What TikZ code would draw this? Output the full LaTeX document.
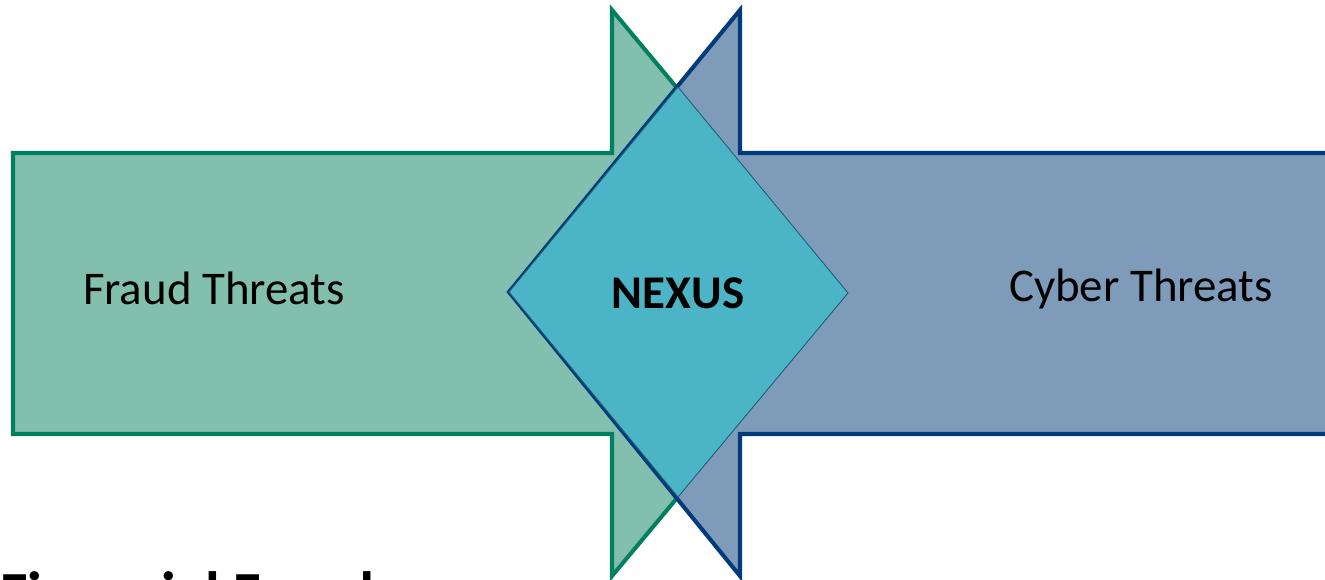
\documentclass[tikz,border=0pt]{standalone}
\usepackage{fontspec}
\setmainfont{Carlito}
\usetikzlibrary{positioning,calc}
\definecolor{FraudLine}{HTML}{00805E}
\definecolor{FraudFill}{HTML}{82BFAF}
\definecolor{CyberLine}{HTML}{003B7B}
\definecolor{CyberFill}{HTML}{7F9BBA}
\definecolor{NexusFill}{HTML}{4BB4C6}
\definecolor{NexusLine}{HTML}{1F5F70}

\begin{document}
\begin{tikzpicture}[x=0.02cm,y=-0.02cm,
    arrowshape/.style={line width=2.3pt, line join=miter},
    threatlabel/.style={font=\fontsize{26.7}{32}\selectfont, inner sep=0pt},
    nexuslabel/.style={font=\fontsize{26.7}{32}\selectfont\bfseries, inner sep=0pt}
  ]
    \useasboundingbox (0,0) rectangle (1325,579);
    \clip (0,0) rectangle (1325,579);

    % Arrow 1: Fraud (pointing right)
    \coordinate (ftip) at (848,293);
    \draw[arrowshape,draw=FraudLine,fill=FraudFill]
      (13,153) -- (612,153) -- (612,10) -- (ftip) -- (612,576)
      -- (612,434) -- (13,434) -- cycle;

    % Arrow 2: Cyber (pointing left)
    \coordinate (ctip) at (509,292);
    \draw[arrowshape,draw=CyberLine,fill=CyberFill]
      (1340,153) -- (740,153) -- (740,10) -- (ctip) -- (740,576)
      -- (740,434) -- (1340,434);

    % Overlap: Nexus
    \coordinate (ntop) at (678,87);
    \coordinate (nbot) at (678,497);
    \draw[draw=NexusLine,line width=0.5pt,fill=NexusFill]
      (ctip) -- (ntop) -- (ftip) -- (nbot) -- cycle;

    \node[threatlabel] (fraud) at (214,288) {Fraud Threats};
    \node[threatlabel] (cyber) at (1141,289) {Cyber Threats};
    \node[nexuslabel] (nexus) at (678,293) {NEXUS};

    % Cut-off caption at the bottom
    \node[anchor=base west,inner sep=0pt,
      font=\fontsize{34}{40}\selectfont\bfseries] (caption) at (0,613) {Financial Fraud};
  \end{tikzpicture}
\end{document}
